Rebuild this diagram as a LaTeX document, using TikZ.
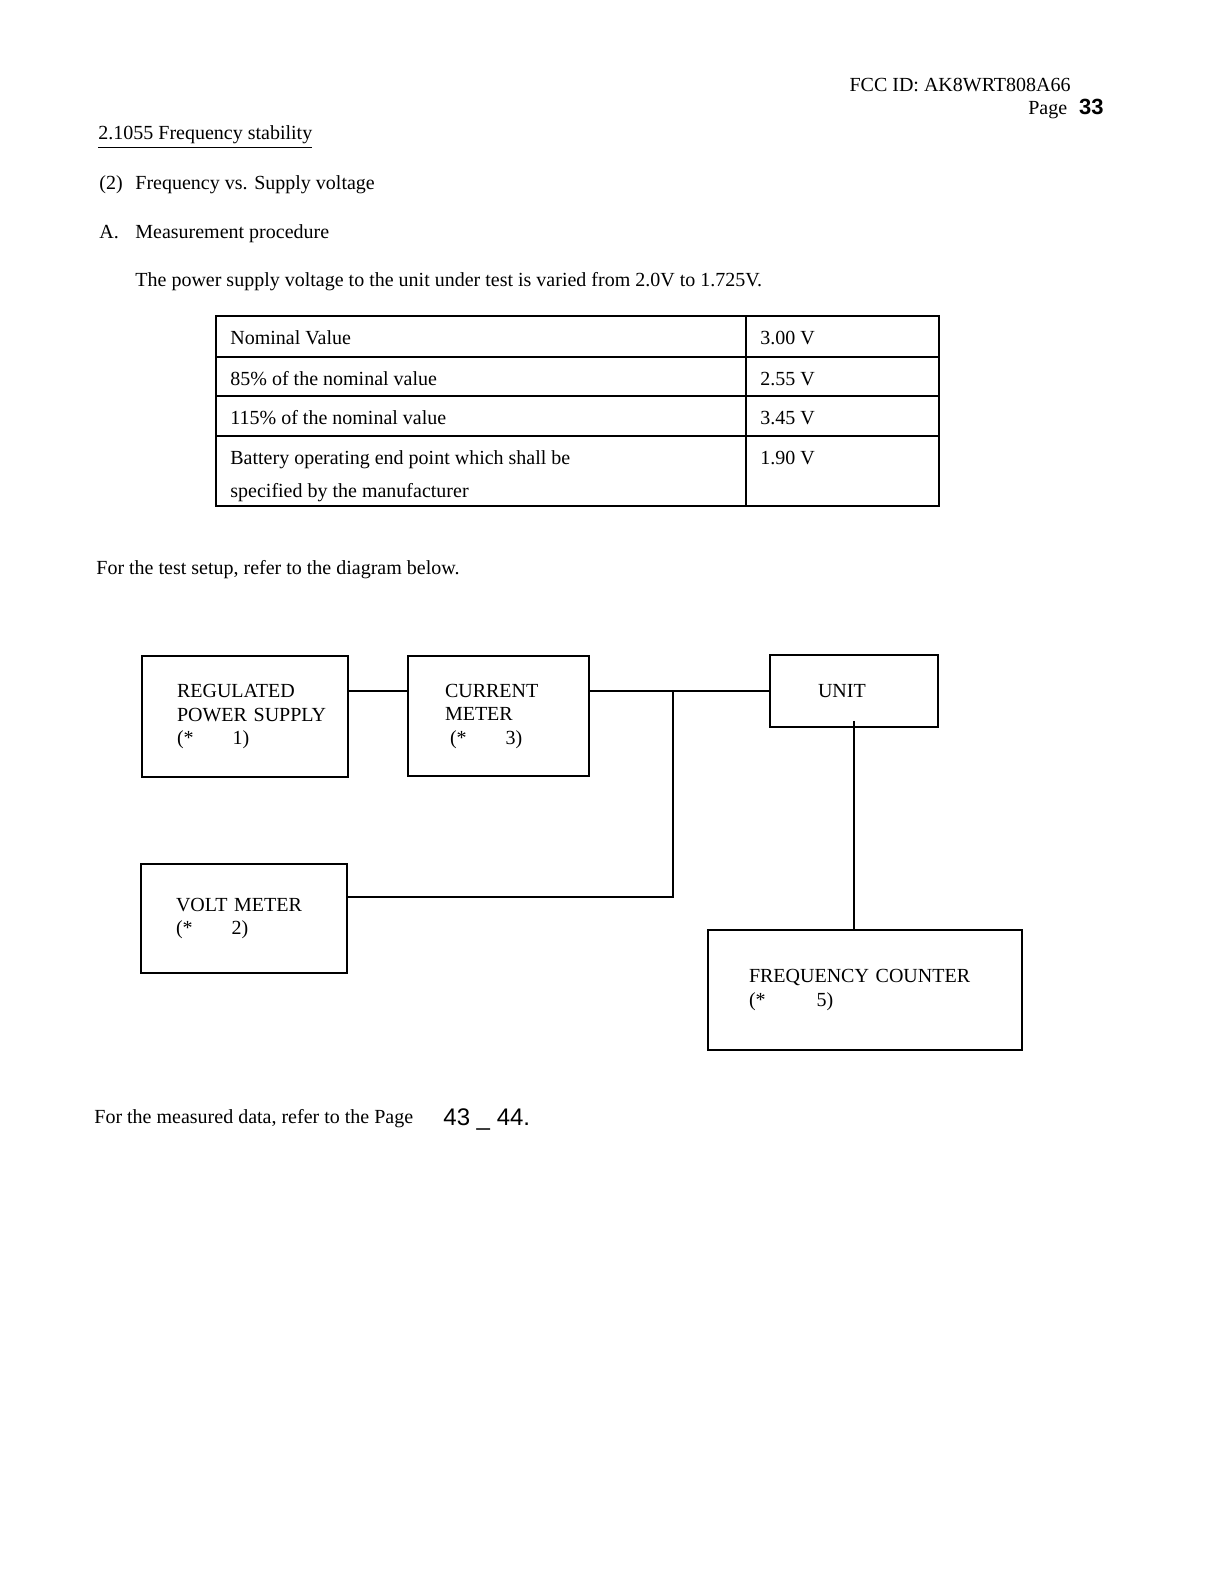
\documentclass[tikz,border=0pt]{standalone}
\usepackage{fontspec}
\setmainfont{Liberation Serif}
\newfontfamily\handfont{Liberation Sans}
\usepackage{tikz}

\begin{document}
\begin{tikzpicture}[
				x=0.5pt, y=-0.5pt,
				box style/.style={
					draw,
					line width=0.9pt,
					align=left,
					font=\fontsize{10}{11.75}\selectfont
				},
				text style/.style={
					anchor=base west,
					inner sep=0pt,
					font=\fontsize{10}{12}\selectfont
				},
				wire/.style={line width=0.7pt},
				grid line/.style={line width=0.9pt}
				]
				
				\useasboundingbox (0,0) rectangle (1224,1584);
				\fill[white] (0,0) rectangle (1224,1584);
				
				% page header
				\node[text style, anchor=base east, font=\fontsize{10}{11}\selectfont] (fccid) at (1071,92) {FCC ID: AK8WRT808A66};
				\node[text style, anchor=base east] (pageno) at (1104,115) {Page\hspace{6pt}{\handfont\bfseries\fontsize{11}{12}\selectfont 33}};
				
				\node[text style] (title) at (98,140) {\underline{2.1055 Frequency stability}};
				\node[text style] (item2) at (99,189) {\makebox[18pt][l]{(2)}Frequency vs. Supply voltage};
				\node[text style] (itemA) at (99,238) {\makebox[18pt][l]{A.}Measurement procedure};
				\node[text style] (proc) at (135,286) {The power supply voltage to the unit under test is varied from 2.0V to 1.725V.};
				
				% voltage table
				\draw[grid line] (216,316) rectangle (939,506);
				\foreach \yy in {357,396,436}
					\draw[grid line] (216,\yy) -- (939,\yy);
				\draw[grid line] (746,316) -- (746,506);
				\foreach \lbl/\val/\yy [count=\i] in {Nominal Value/3.00 V/344,85\% of the nominal value/2.55 V/385,115\% of the nominal value/3.45 V/424}{
					\node[text style] (cond\i) at (230,\yy) {\lbl};
					\node[text style] (volt\i) at (760,\yy) {\val};
				}
				\node[text style] (cond4) at (230,464) {Battery operating end point which shall be};
				\node[text style] (cond4b) at (230,497) {specified by the manufacturer};
				\node[text style] (volt4) at (760,464) {1.90 V};
				
				\node[text style] (setup) at (96,574) {For the test setup, refer to the diagram below.};
				
				% test setup
				\node[box style, minimum height=60.5pt, text width=68pt, inner xsep=17.5pt] (psu) at (245,716.5)
				{REGULATED\\\mbox{POWER SUPPLY}\\(*\hspace{19.5pt}1)};
				
				\node[box style, minimum height=60pt, text width=53.5pt, inner xsep=18.5pt] (ameter) at (498.5,716)
				{CURRENT\\METER\\\hspace*{2.5pt}(*\hspace{19.5pt}3)};
				
				\node[box style, minimum height=36pt, text width=36pt, inner xsep=24pt] (unit) at (854,691)
				{UNIT};
				
				\node[box style, minimum height=54.5pt, text width=68pt, inner xsep=17.5pt] (vmeter) at (244,918.5)
				{VOLT METER\\(*\hspace{19.5pt}2)};
				
				\node[box style, minimum height=60pt, text width=116pt, inner xsep=20.5pt] (counter) at (865,990)
				{FREQUENCY COUNTER\\(*\hspace{25.5pt}5)};
				
				\coordinate (tee) at (673,691);
				\coordinate (vtap) at (673,897);
				
				\draw[wire] (psu.east |- tee) -- (ameter.west |- tee);
				\draw[wire] (ameter.east |- tee) -- (unit.west);
				\draw[wire] (tee) -- (vtap) -- (vmeter.east |- vtap);
				\draw[wire] ([yshift=3.5pt]unit.south) -- (unit.south |- counter.north);
				
				\node[text style] (datanote) at (94,1123) {For the measured data, refer to the Page};
				\node[text style, font=\handfont\fontsize{12}{14}\selectfont] (pages) at (443,1125) {43 \_ 44.};
				
			\end{tikzpicture}
\end{document}
